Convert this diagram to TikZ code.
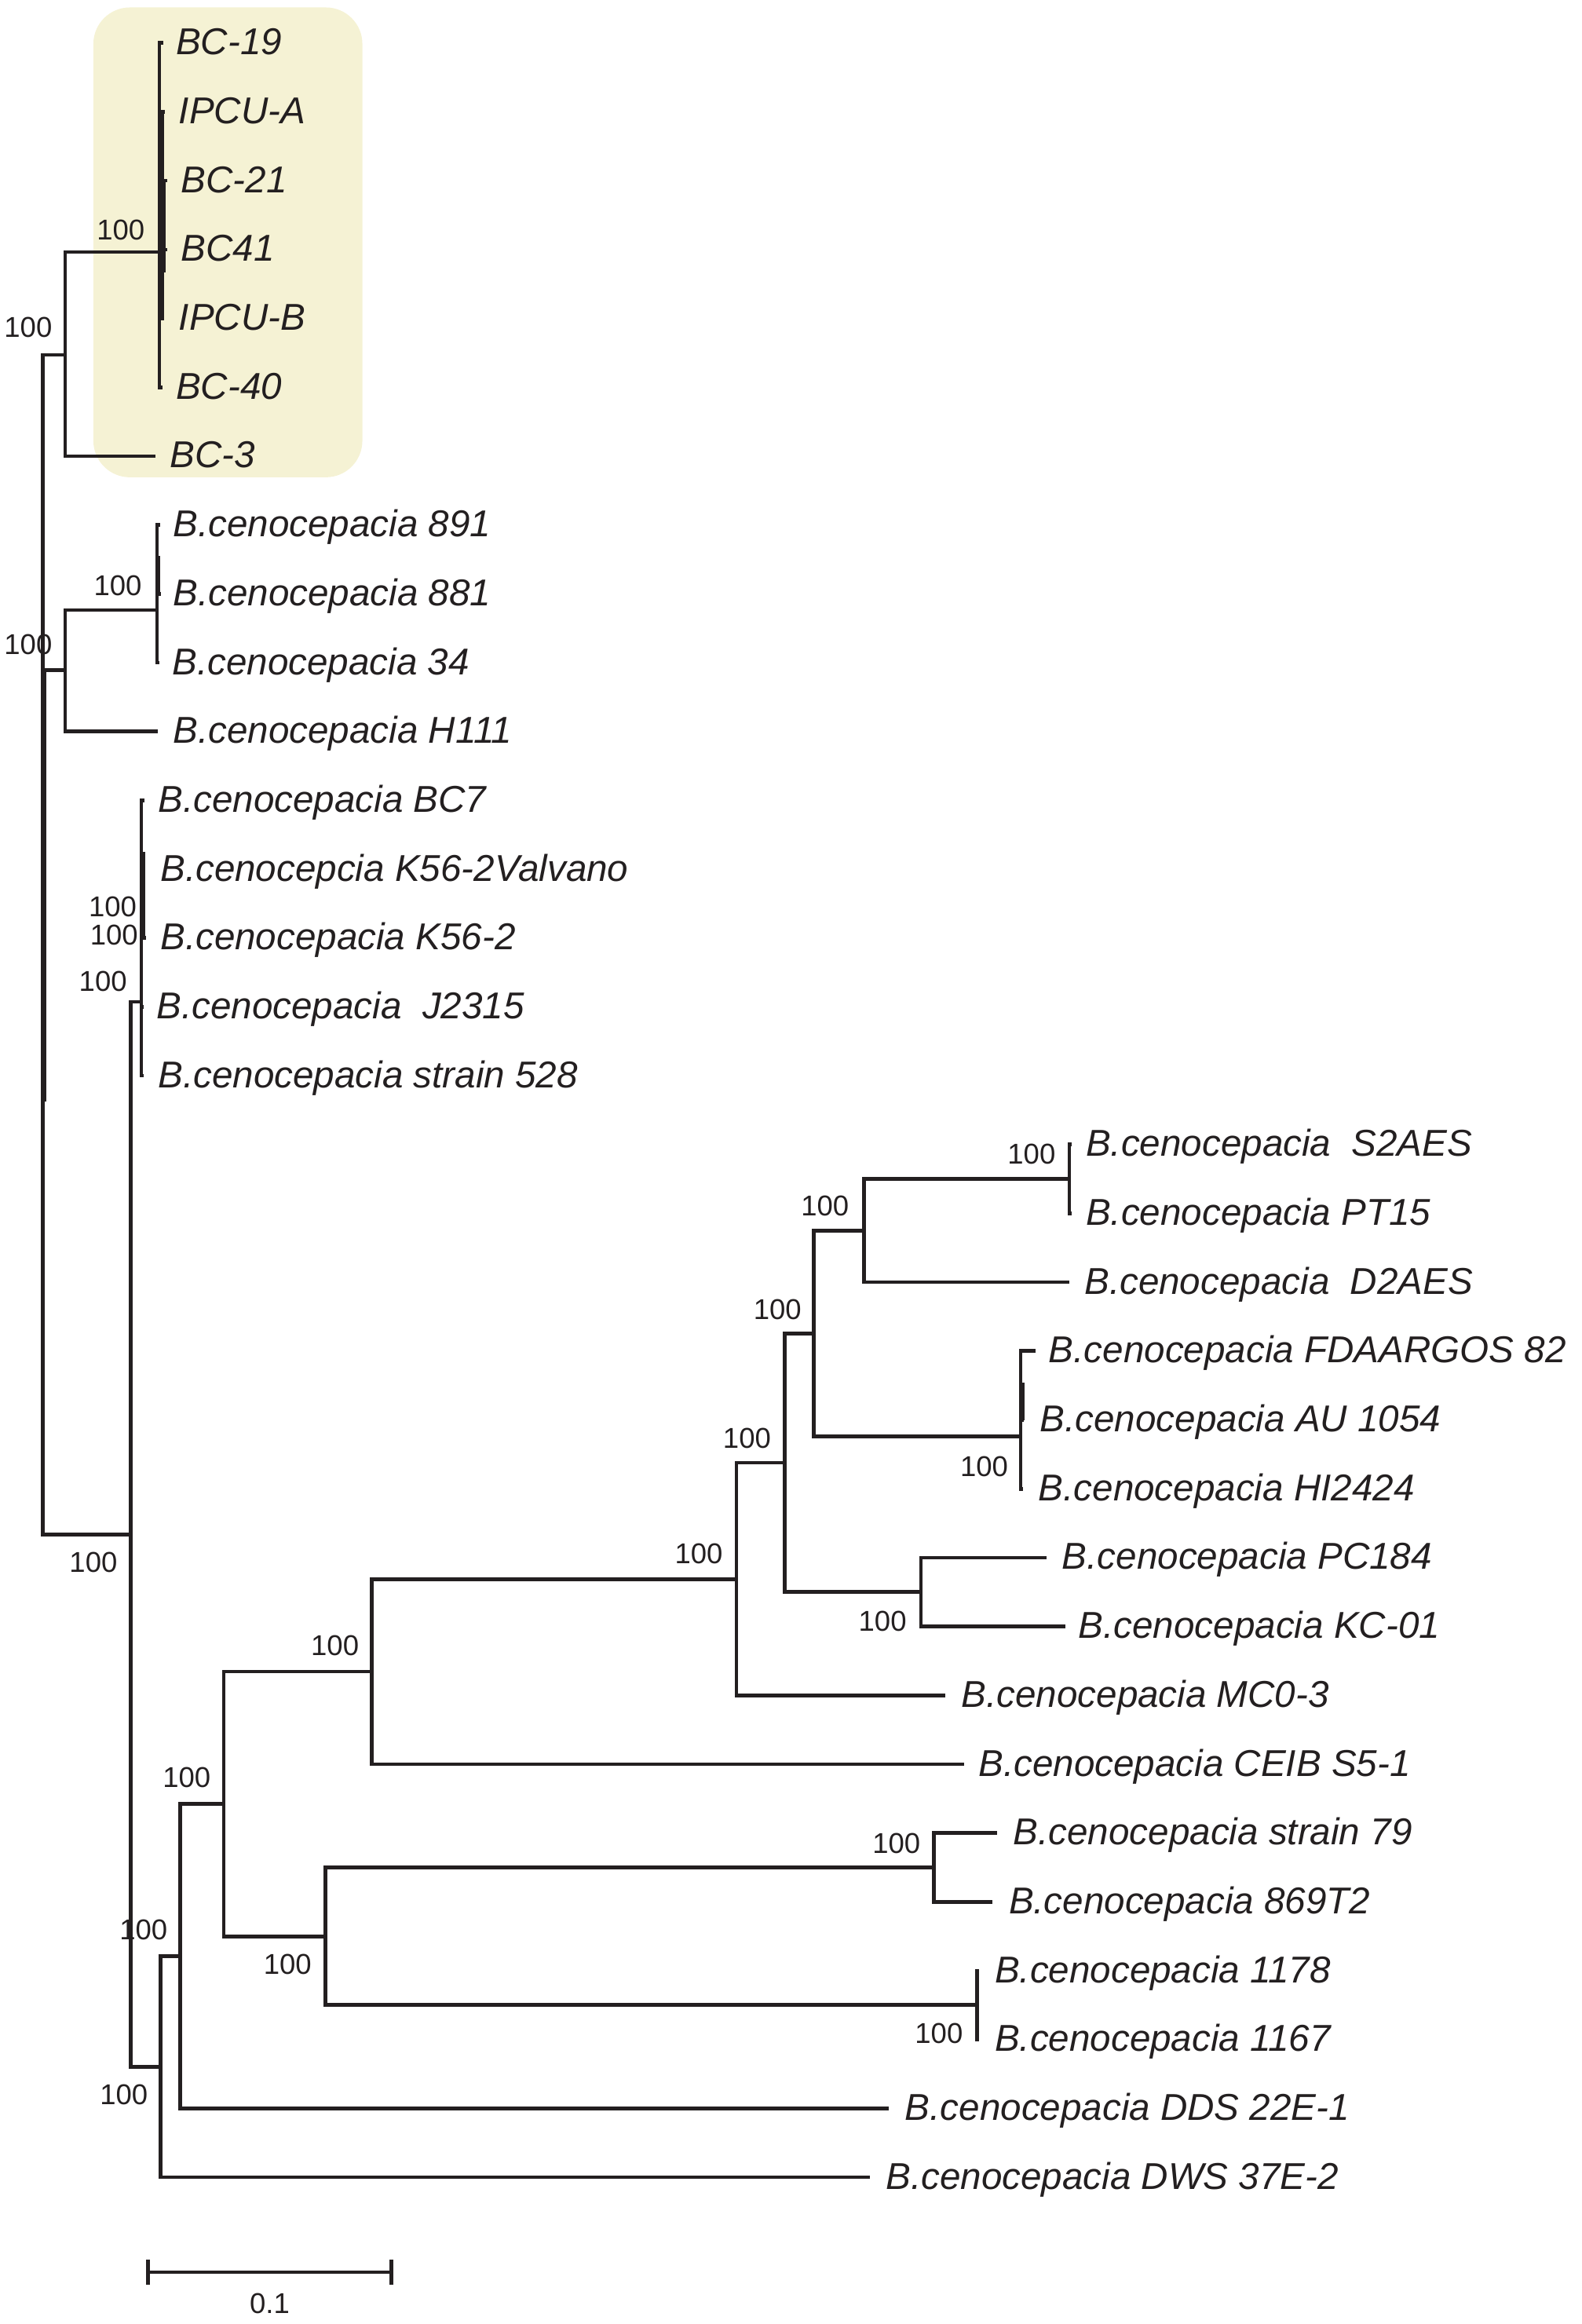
\documentclass[tikz,border=0pt]{standalone}
\usepackage{fontspec}
\setmainfont{Liberation Sans}
\definecolor{treeline}{RGB}{35,31,32}
\definecolor{cladebg}{RGB}{245,242,212}
\tikzset{
  branch/.style={draw=treeline,line width=0.7pt},
  leaf/.style={anchor=base west,inner sep=0pt,text=treeline,font=\fontsize{7.17}{8}\selectfont\itshape},
  boot/.style={inner sep=0pt,text=treeline,font=\fontsize{5.5}{6}\selectfont},
}
\begin{document}
\begin{tikzpicture}[x=0.01cm,y=-0.01cm]
\useasboundingbox (0,0) rectangle (1067,1568);

% highlighted clade
\fill[cladebg,rounded corners=7pt] (63,5) rectangle (244.5,322);

% internal nodes
\coordinate (root) at (29,637);
\coordinate (nBCo) at (44,239.5);
\coordinate (nBC) at (107.5,170);
\coordinate (nHo) at (44,452);
\coordinate (n891) at (106,411.5);
\coordinate (nB) at (88.3,1035.2);
\coordinate (nK) at (95.3,676);
\coordinate (nB2) at (108.5,1394.4);
\coordinate (nB3) at (121.7,1319.8);
\coordinate (nB4) at (151,1217.1);
\coordinate (nB5) at (219.7,1306.4);
\coordinate (n79) at (630,1259.9);
\coordinate (n1178) at (659.4,1352.8);
\coordinate (nC) at (250.8,1127.8);
\coordinate (nC2) at (496.8,1065.4);
\coordinate (nC3) at (529.3,986.9);
\coordinate (nPC) at (621.4,1074.1);
\coordinate (nC4) at (549,899.7);
\coordinate (nAU) at (688.6,969);
\coordinate (nC5) at (582.8,830.3);
\coordinate (nS2) at (721.4,795.4);

% tips
\coordinate (t1) at (110,29);
\coordinate (t2) at (111,75.45);
\coordinate (t3) at (113,121.9);
\coordinate (t4) at (113,168.35);
\coordinate (t5) at (110.8,214.8);
\coordinate (t6) at (109.5,261.25);
\coordinate (t7) at (105,307.7);
\coordinate (t8) at (108,354.15);
\coordinate (t9) at (108.5,400.6);
\coordinate (t10) at (107.5,447.05);
\coordinate (t11) at (106.5,493.5);
\coordinate (t12) at (97.5,539.95);
\coordinate (t13) at (98,586.4);
\coordinate (t14) at (98.5,632.85);
\coordinate (t15) at (97,679.3);
\coordinate (t16) at (97,725.75);
\coordinate (t17) at (723,772.2);
\coordinate (t18) at (723,818.65);
\coordinate (t19) at (721.4,865.1);
\coordinate (t20) at (698.8,911.55);
\coordinate (t21) at (691,958);
\coordinate (t22) at (690.3,1004.45);
\coordinate (t23) at (706,1050.9);
\coordinate (t24) at (718.7,1097.35);
\coordinate (t25) at (637.6,1143.8);
\coordinate (t26) at (650.3,1190.25);
\coordinate (t27) at (673,1236.7);
\coordinate (t28) at (669.5,1283.15);
\coordinate (t29) at (660.5,1329.6);
\coordinate (t30) at (660.5,1376.05);
\coordinate (t31) at (599.6,1422.5);
\coordinate (t32) at (587,1468.95);

% branches
\draw[branch] (root) |- (nBCo) (root) |- (nHo) (root) |- (nB);
\draw[branch] (nBCo) |- (nBC) (nBCo) |- (t7);
\draw[branch] (nBC) |- (t1) (nBC) |- (t2) (nBC) |- (t3) (nBC) |- (t4) (nBC) |- (t5) (nBC) |- (t6);
\draw[branch] (nHo) |- (n891) (nHo) |- (t11);
\draw[branch] (n891) |- (t8) (n891) |- (t9) (n891) |- (t10);
\draw[branch] (nB) |- (nK) (nB) |- (nB2);
\draw[branch] (nK) |- (t12) (nK) |- (t13) (nK) |- (t14) (nK) |- (t15) (nK) |- (t16);
\draw[branch] (nB2) |- (nB3) (nB2) |- (t32);
\draw[branch] (nB3) |- (nB4) (nB3) |- (t31);
\draw[branch] (nB4) |- (nC) (nB4) |- (nB5);
\draw[branch] (nB5) |- (n79) (nB5) |- (n1178);
\draw[branch] (n79) |- (t27) (n79) |- (t28);
\draw[branch] (n1178) |- (t29) (n1178) |- (t30);
\draw[branch] (nC) |- (nC2) (nC) |- (t26);
\draw[branch] (nC2) |- (nC3) (nC2) |- (t25);
\draw[branch] (nC3) |- (nC4) (nC3) |- (nPC);
\draw[branch] (nPC) |- (t23) (nPC) |- (t24);
\draw[branch] (nC4) |- (nC5) (nC4) |- (nAU);
\draw[branch] (nC5) |- (nS2) (nC5) |- (t19);
\draw[branch] (nS2) |- (t17) (nS2) |- (t18);
\draw[branch] (nAU) |- (t20) (nAU) |- (t21) (nAU) |- (t22);

% near-zero branches drawn on top of each other
\coordinate (ovA) at (30,452);     \coordinate (ovB) at (30,743);
\coordinate (ovC) at (109.5,77);   \coordinate (ovD) at (109.5,215);
\coordinate (ovE) at (110.6,122);  \coordinate (ovF) at (110.6,184);
\coordinate (ovG) at (106.8,375);  \coordinate (ovH) at (106.8,400);
\coordinate (ovI) at (96.8,575);   \coordinate (ovJ) at (96.8,634);
\coordinate (ovK) at (690,933);    \coordinate (ovL) at (690,958);
\draw[branch] (ovA) -- (ovB) (ovC) -- (ovD) (ovE) -- (ovF) (ovG) -- (ovH) (ovI) -- (ovJ) (ovK) -- (ovL);

% taxa
\node[leaf] (l1) at (118,37) {BC-19};
\node[leaf] (l2) at (120,83.45) {IPCU-A};
\node[leaf] (l3) at (121.5,129.9) {BC-21};
\node[leaf] (l4) at (121.5,176.35) {BC41};
\node[leaf] (l5) at (120,222.8) {IPCU-B};
\node[leaf] (l6) at (118,269.25) {BC-40};
\node[leaf] (l7) at (114,315.7) {BC-3};
\node[leaf] (l8) at (116,362.15) {B.cenocepacia 891};
\node[leaf] (l9) at (116,408.6) {B.cenocepacia 881};
\node[leaf] (l10) at (115.5,455.05) {B.cenocepacia 34};
\node[leaf] (l11) at (116,501.5) {B.cenocepacia H111};
\node[leaf] (l12) at (106,547.95) {B.cenocepacia BC7};
\node[leaf] (l13) at (107.5,594.4) {B.cenocepcia K56-2Valvano};
\node[leaf] (l14) at (107.5,640.85) {B.cenocepacia K56-2};
\node[leaf] (l15) at (105,687.3) {B.cenocepacia\ \ J2315};
\node[leaf] (l16) at (106,733.75) {B.cenocepacia strain 528};
\node[leaf] (l17) at (732,780.2) {B.cenocepacia\ \ S2AES};
\node[leaf] (l18) at (732,826.65) {B.cenocepacia PT15};
\node[leaf] (l19) at (731,873.1) {B.cenocepacia\ \ D2AES};
\node[leaf] (l20) at (707,919.55) {B.cenocepacia FDAARGOS 82};
\node[leaf] (l21) at (701,966) {B.cenocepacia AU 1054};
\node[leaf] (l22) at (700,1012.45) {B.cenocepacia HI2424};
\node[leaf] (l23) at (716,1058.9) {B.cenocepacia PC184};
\node[leaf] (l24) at (727,1105.35) {B.cenocepacia KC-01};
\node[leaf] (l25) at (648,1151.8) {B.cenocepacia MC0-3};
\node[leaf] (l26) at (659.5,1198.25) {B.cenocepacia CEIB S5-1};
\node[leaf] (l27) at (683,1244.7) {B.cenocepacia strain 79};
\node[leaf] (l28) at (680,1291.15) {B.cenocepacia 869T2};
\node[leaf] (l29) at (670.5,1337.6) {B.cenocepacia 1178};
\node[leaf] (l30) at (670.5,1384.05) {B.cenocepacia 1167};
\node[leaf] (l31) at (610,1430.5) {B.cenocepacia DDS 22E-1};
\node[leaf] (l32) at (597,1476.95) {B.cenocepacia DWS 37E-2};

% bootstrap values
\node[boot] (b1) at (81.5,155) {100};
\node[boot] (b2) at (19,221) {100};
\node[boot] (b3) at (79.5,395) {100};
\node[boot] (b4) at (19,435) {100};
\node[boot] (b5) at (76,611.7) {100};
\node[boot] (b6) at (77,630.7) {100};
\node[boot] (b7) at (69.5,662) {100};
\node[boot] (b8) at (63,1054.3) {100};
\node[boot] (b9) at (696,778.9) {100};
\node[boot] (b10) at (556.6,813.4) {100};
\node[boot] (b11) at (524.6,883.5) {100};
\node[boot] (b12) at (504,970.5) {100};
\node[boot] (b13) at (664,989.3) {100};
\node[boot] (b14) at (471.5,1048.3) {100};
\node[boot] (b15) at (595.5,1094) {100};
\node[boot] (b16) at (226,1110.5) {100};
\node[boot] (b17) at (126,1199.5) {100};
\node[boot] (b18) at (604.8,1244) {100};
\node[boot] (b19) at (96.8,1302) {100};
\node[boot] (b20) at (194,1325.5) {100};
\node[boot] (b21) at (633.5,1372) {100};
\node[boot] (b22) at (83.6,1413) {100};

% scale bar
\coordinate (sbL) at (100,1533);
\coordinate (sbR) at (264,1533);
\draw[branch] (sbL) -- (sbR);
\draw[branch] (sbL) ++(0,-8.5) -- ++(0,17);
\draw[branch] (sbR) ++(0,-8.5) -- ++(0,17);
\node[boot] (sbT) at (182,1554) {0.1};

\end{tikzpicture}
\end{document}
